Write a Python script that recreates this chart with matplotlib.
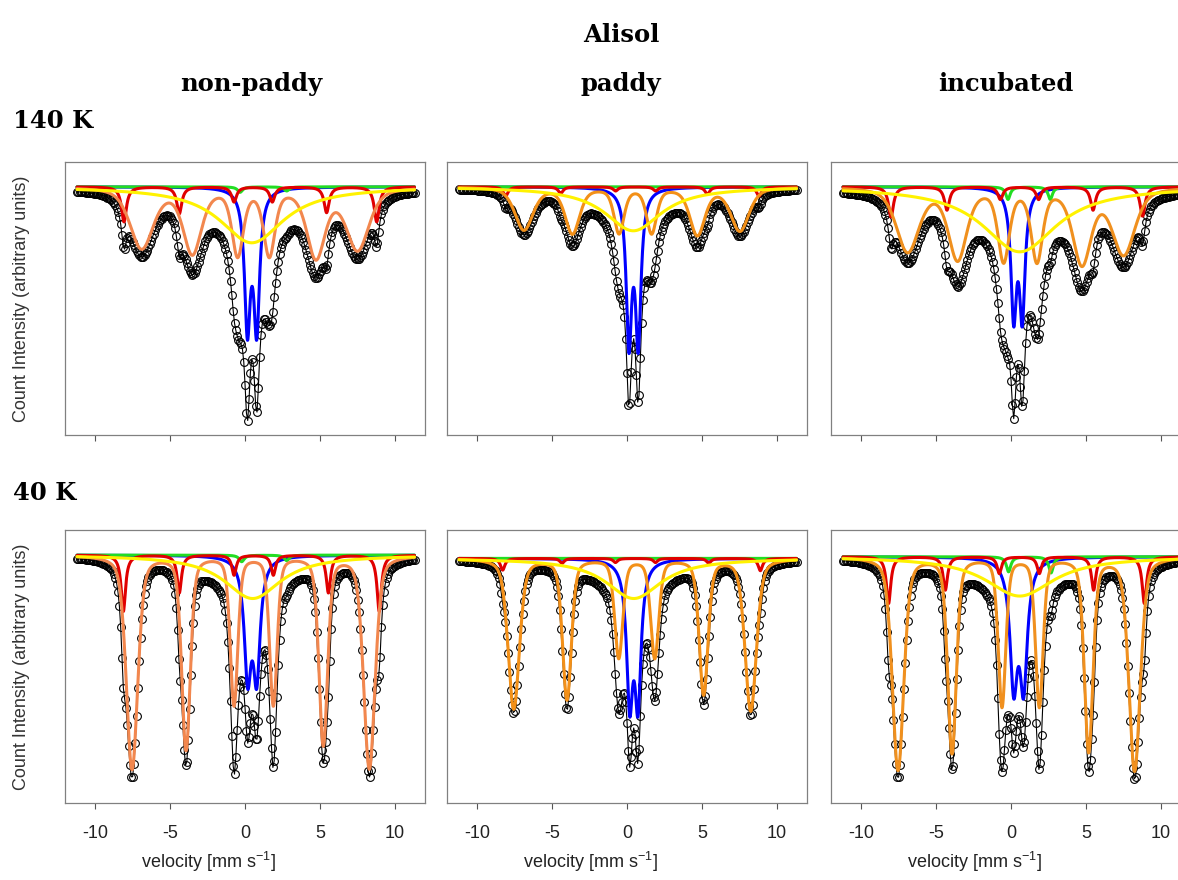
import numpy as np
import matplotlib
matplotlib.use("Agg")
import matplotlib.pyplot as plt

# ---------------- data ----------------
SAMPLES = ["non-paddy", "paddy", "incubated"]
TEMPERATURES = ["140 K", "40 K"]
TICKS = [-10, -5, 0, 5, 10]
TICK_LABELS = ["-10", "-5", "0", "5", "10"]
VEL_MIN, VEL_MAX, N_CHANNELS = -11.2, 11.3, 256

# baseline level of each spectrum (rows: 140 K, 40 K; cols: samples)
BASELINE = [[0.909, 0.909, 0.909], [0.908, 0.896, 0.902]]

# red sextet (sharp lines)
RED_POS = [[[-8.07, -4.38, -0.73, 1.82, 5.44, 8.78],
            [-8.09, -4.42, -0.76, 1.91, 5.36, 8.80],
            [-8.00, -4.27, -0.71, 1.84, 5.47, 8.77]],
           [[-8.11, -4.38, -0.73, 1.89, 5.56, 8.95],
            [-8.29, -4.33, -0.77, 1.90, 5.45, 8.89],
            [-8.16, -4.38, -0.78, 1.89, 5.51, 8.89]]]
RED_DEPTH = [[[0.128, 0.098, 0.055, 0.055, 0.094, 0.128],
              [0.034, 0.024, 0.015, 0.015, 0.027, 0.034],
              [0.110, 0.085, 0.046, 0.046, 0.085, 0.107]],
             [[0.206, 0.138, 0.073, 0.073, 0.138, 0.206],
              [0.043, 0.018, 0.015, 0.015, 0.018, 0.045],
              [0.171, 0.122, 0.061, 0.061, 0.122, 0.171]]]
RED_FWHM = [[0.40, 0.38, 0.40], [0.35, 0.35, 0.35]]

# orange sextet (broad lines)
ORANGE_POS = [[[-6.89, -3.51, -0.49, 1.62, 4.73, 7.51],
               [-6.87, -3.64, -0.53, 1.64, 4.69, 7.53],
               [-6.89, -3.56, -0.49, 1.73, 4.73, 7.51]],
              [[-7.53, -3.93, -0.73, 1.89, 5.22, 8.29],
               [-7.55, -4.00, -0.55, 1.85, 5.11, 8.25],
               [-7.53, -3.93, -0.60, 1.89, 5.18, 8.24]]]
ORANGE_DEPTH = [[[0.222, 0.238, 0.242, 0.242, 0.253, 0.226],
                 [0.156, 0.168, 0.165, 0.165, 0.173, 0.159],
                 [0.234, 0.260, 0.262, 0.262, 0.275, 0.242]],
                [[0.783, 0.709, 0.545, 0.545, 0.691, 0.780],
                 [0.550, 0.514, 0.361, 0.361, 0.495, 0.557],
                 [0.780, 0.715, 0.544, 0.544, 0.709, 0.782]]]
ORANGE_FWHM = [[[1.85, 1.45, 0.90, 0.90, 1.45, 1.80],
                [1.45, 1.15, 0.80, 0.80, 1.20, 1.45],
                [1.80, 1.45, 0.90, 0.90, 1.45, 1.80]],
               [[0.90, 0.68, 0.60, 0.60, 0.68, 0.90],
                [0.90, 0.70, 0.65, 0.65, 0.70, 0.90],
                [0.90, 0.68, 0.60, 0.60, 0.68, 0.90]]]
ORANGE_ETA = [0.5, 0.4]
ORANGE_COLOR = [["#F2874E", "#F39018", "#F0901E"],
                ["#F2874E", "#F39018", "#F0901E"]]

# blue doublet
BLUE_POS = [[[0.16, 0.78], [0.13, 0.75], [0.18, 0.75]],
            [[0.18, 0.78], [0.18, 0.73], [0.18, 0.84]]]
BLUE_DEPTH = [[0.499, 0.549, 0.452], [0.416, 0.495, 0.444]]
BLUE_FWHM = [[0.47, 0.44, 0.45], [0.56, 0.50, 0.60]]

# yellow broad singlet
YELLOW_POS = [[0.45, 0.42, 0.58], [0.51, 0.45, 0.58]]
YELLOW_DEPTH = [[0.205, 0.161, 0.238], [0.159, 0.147, 0.144]]
YELLOW_FWHM = [[5.2, 4.6, 6.0], [4.6, 4.5, 5.5]]

# green doublet (weak)
GREEN_POS = [[[-0.33, 2.78], [], [-0.20, 2.62]],
             [[-0.22, 2.78], [], [-0.16, 2.67]]]
GREEN_DEPTH = [[[0.020, 0.015], [], [0.046, 0.046]],
               [[0.024, 0.020], [], [0.055, 0.059]]]
GREEN_FWHM = [[0.40, 0.40, 0.35], [0.40, 0.40, 0.35]]


# ---------------- helpers ----------------
def line_shape(v, centre, depth, fwhm, eta=1.0):
    h = fwhm / 2.0
    lor = 1.0 / (1.0 + ((v - centre) / h) ** 2)
    gau = np.exp(-4.0 * np.log(2.0) * ((v - centre) / fwhm) ** 2)
    return depth * (eta * lor + (1.0 - eta) * gau)


def component(v, pos, depth, fwhm, eta=1.0):
    out = np.zeros_like(v)
    if np.isscalar(depth):
        depth = [depth] * len(pos)
    if np.isscalar(fwhm):
        fwhm = [fwhm] * len(pos)
    for c, d, w in zip(pos, depth, fwhm):
        out += line_shape(v, c, d, w, eta)
    return out


def all_components(v, r, c):
    return {
        "blue": component(v, BLUE_POS[r][c], BLUE_DEPTH[r][c], BLUE_FWHM[r][c]),
        "green": component(v, GREEN_POS[r][c], GREEN_DEPTH[r][c], GREEN_FWHM[r][c]),
        "red": component(v, RED_POS[r][c], RED_DEPTH[r][c], RED_FWHM[r][c]),
        "orange": component(v, ORANGE_POS[r][c], ORANGE_DEPTH[r][c],
                            ORANGE_FWHM[r][c], ORANGE_ETA[r]),
        "yellow": component(v, [YELLOW_POS[r][c]], YELLOW_DEPTH[r][c],
                            YELLOW_FWHM[r][c]),
    }


# ---------------- figure ----------------
W, H = 1178, 880
fig = plt.figure(figsize=(W / 100, H / 100), dpi=100)

COL_LEFT = [65, 447, 831]
ROW_TOP = [162, 530]
AX_W, AX_H = 360, 273
FRAME = "#808080"

v_data = np.linspace(VEL_MIN, VEL_MAX, N_CHANNELS)
v_fit = np.linspace(VEL_MIN, VEL_MAX, 1500)

for r in range(2):
    for c in range(3):
        ax = fig.add_axes([COL_LEFT[c] / W, 1 - (ROW_TOP[r] + AX_H) / H,
                           AX_W / W, AX_H / H])
        base = BASELINE[r][c]
        comps = all_components(v_fit, r, c)
        total = sum(all_components(v_data, r, c).values())
        ax.plot(v_data, base - total, color="black", lw=0.8, marker="o",
                ms=5.6, mfc="none", mec="black", mew=0.8, zorder=2)

        colors = {"blue": "#0000FF", "green": "#22DD22", "red": "#E00000",
                  "orange": ORANGE_COLOR[r][c], "yellow": "#FFF200"}
        for z, key in enumerate(["blue", "green", "red", "orange", "yellow"]):
            ax.plot(v_fit, base - comps[key], color=colors[key], lw=2.2,
                    zorder=3 + z, solid_capstyle="round")

        ax.set_xlim(-12, 12)
        ax.set_ylim(0, 1)
        ax.set_yticks([])
        ax.set_xticks(TICKS)
        for s in ["left", "right", "top", "bottom"]:
            ax.spines[s].set_color(FRAME)
            ax.spines[s].set_linewidth(0.9)
        ax.tick_params(axis="x", direction="out", length=4.5, width=0.8,
                       color="#555555", pad=11)
        if r == 1:
            ax.set_xticklabels(TICK_LABELS, fontsize=13, family="Liberation Sans",
                               color="#222222")
            fig.text((COL_LEFT[c] + AX_W / 2 - 37) / W, 1 - 862 / H,
                     r"velocity [mm s$^{\mathregular{-1}}$]", ha="center",
                     va="center", fontsize=13, family="Liberation Sans",
                     color="#222222")
        else:
            ax.set_xticklabels([])

    fig.text(22 / W, 1 - (ROW_TOP[r] + AX_H / 2) / H,
             "Count Intensity (arbitrary units)", rotation=90, ha="center",
             va="center", fontsize=13, family="Liberation Sans", color="#333333")

# headings
serif = dict(family="DejaVu Serif", fontweight="bold", color="black")
fig.text(621 / W, 1 - 42 / H, "Alisol", ha="center", va="baseline",
         fontsize=17.5, **serif)
for x, s in zip([251.5, 621, 1006], SAMPLES):
    fig.text(x / W, 1 - 91 / H, s, ha="center", va="baseline", fontsize=17.5, **serif)
fig.text(13 / W, 1 - 128 / H, TEMPERATURES[0], ha="left", va="baseline",
         fontsize=17.5, **serif)
fig.text(13 / W, 1 - 500 / H, TEMPERATURES[1], ha="left", va="baseline",
         fontsize=17.5, **serif)

fig.savefig("out.png", dpi=100)
